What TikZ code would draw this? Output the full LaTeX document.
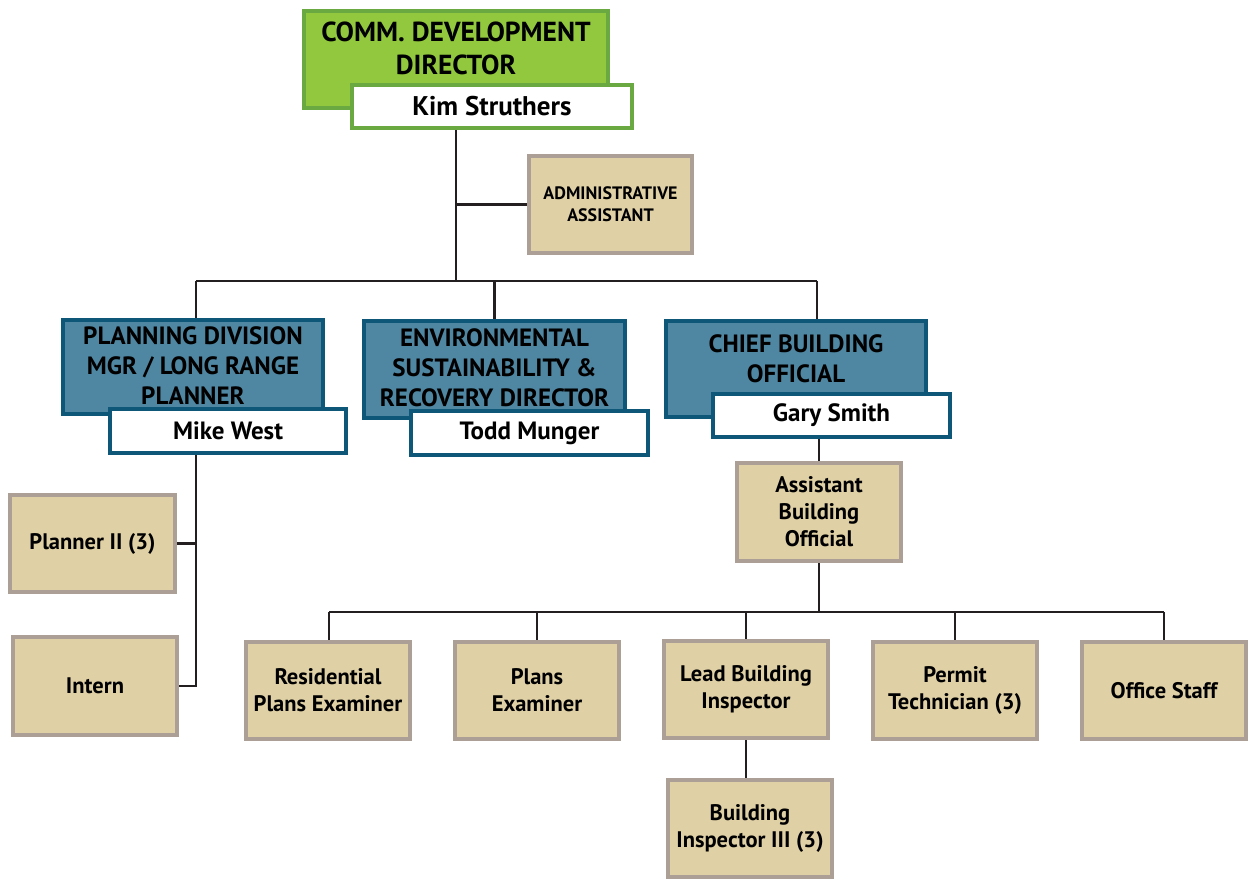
\documentclass[tikz,border=0pt]{standalone}
\usepackage{fontspec}
\setmainfont{PT Sans}
\definecolor{gfill}{HTML}{92C83E}
\definecolor{gline}{HTML}{6AA842}
\definecolor{bfill}{HTML}{4F87A3}
\definecolor{bline}{HTML}{0F5778}
\definecolor{tfill}{HTML}{DFD0A5}
\definecolor{tline}{HTML}{AB9F96}
\definecolor{cline}{HTML}{231F20}
\tikzset{
  box/.style={draw, line width=4pt, inner sep=0pt, align=center, font=\bfseries},
  tanbox/.style={box, draw=tline, fill=tfill, minimum width=164pt, minimum height=97pt, font=\fontsize{22.5}{27}\selectfont\bfseries},
  greenbox/.style={box, draw=gline, fill=gfill},
  bluebox/.style={box, draw=bline, fill=bfill},
  namebox/.style={box, fill=white, font=\fontsize{25}{27}\selectfont\bfseries},
  title/.style={align=center, inner sep=0pt, font=\fontsize{25}{30}\selectfont\bfseries},
  conn/.style={draw=cline, line width=2.5pt}
}
\begin{document}
\begin{tikzpicture}[x=1pt,y=-1pt]
\useasboundingbox (0,0) rectangle (1249,880);
% boxes
\node[greenbox, minimum width=304pt, minimum height=97pt] (green) at (456,59.5) {};
\node[title, font=\fontsize{27.5}{33}\selectfont\bfseries] (greent) at ([yshift=-39.5pt]green.north) {COMM. DEVELOPMENT\\DIRECTOR};
\node[namebox, draw=gline, minimum width=280pt, minimum height=43pt, font=\fontsize{27}{29}\selectfont\bfseries] (kim) at (492,106.5) {Kim Struthers};
\node[tanbox, minimum width=163pt, font=\fontsize{18}{22}\selectfont\bfseries] (admin) at (610.5,204.5) {ADMINISTRATIVE\\ASSISTANT};

\node[bluebox, minimum width=260pt, minimum height=94pt] (plan) at (193,367) {};
\node[title] (plant) at ([yshift=-48pt]plan.north) {PLANNING DIVISION\\MGR / LONG RANGE\\PLANNER};
\node[namebox, draw=bline, minimum width=236pt, minimum height=44pt] (mike) at (228,431) {Mike West};

\node[bluebox, minimum width=261pt, minimum height=97pt] (env) at (494.5,369.5) {};
\node[title] (envt) at ([yshift=-49pt]env.north) {ENVIRONMENTAL\\SUSTAINABILITY \&\\RECOVERY DIRECTOR};
\node[namebox, draw=bline, minimum width=237pt, minimum height=44pt] (todd) at (529.5,433) {Todd Munger};

\node[bluebox, minimum width=260pt, minimum height=96pt] (chief) at (796,369) {};
\node[title] (chieft) at ([yshift=-39.5pt]chief.north) {CHIEF BUILDING\\OFFICIAL};
\node[namebox, draw=bline, minimum width=237pt, minimum height=43pt] (gary) at (831.5,415.5) {Gary Smith};

\node[tanbox, minimum width=165pt] (planner) at (92.5,543.5) {Planner II (3)};
\node[tanbox, minimum height=98pt] (intern) at (95,686) {Intern};
\node[tanbox, minimum height=98pt] (asst) at (819,512) {Assistant\\Building\\Official};
\node[tanbox] (res) at (328,690.5) {Residential\\Plans Examiner};
\node[tanbox] (plans) at (537,690.5) {Plans\\Examiner};
\node[tanbox] (lead) at (746,689.5) {Lead Building\\Inspector};
\node[tanbox] (permit) at (955,690.5) {Permit\\Technician (3)};
\node[tanbox] (office) at (1164,690.5) {Office Staff};
\node[tanbox] (bi3) at (750,828.5) {Building\\Inspector III (3)};

% connectors
\coordinate (busL) at (196,281);
\coordinate (busR) at (817,281);
\coordinate (busM) at (456,281);
\coordinate (b2L) at (329,612);
\coordinate (b2R) at (1164,612);
\draw[conn] (busM |- kim.south) -- (busM);
\draw[conn] (busM |- admin.west) -- (admin.west);
\draw[conn] (busL) -- (busR);
\draw[conn] (busL) -- (busL |- plan.north);
\draw[conn] (env.north |- busL) -- (env.north);
\draw[conn] (busR) -- (busR |- chief.north);
\draw[conn] (busL |- mike.south) -- (busL |- intern.east) -- (intern.east);
\draw[conn] (planner.east) -- (busL |- planner.east);
\draw[conn] (asst.north |- gary.south) -- (asst.north);
\draw[conn] (asst.south) -- (asst.south |- b2L);
\draw[conn] (b2L) -- (b2R);
\draw[conn] (b2L) -- (b2L |- res.north);
\draw[conn] (plans.north |- b2L) -- (plans.north);
\draw[conn] (lead.north |- b2L) -- (lead.north);
\draw[conn] (permit.north |- b2L) -- (permit.north);
\draw[conn] (b2R) -- (office.north);
\draw[conn] (lead.south) -- (lead.south |- bi3.north);
\end{tikzpicture}
\end{document}
